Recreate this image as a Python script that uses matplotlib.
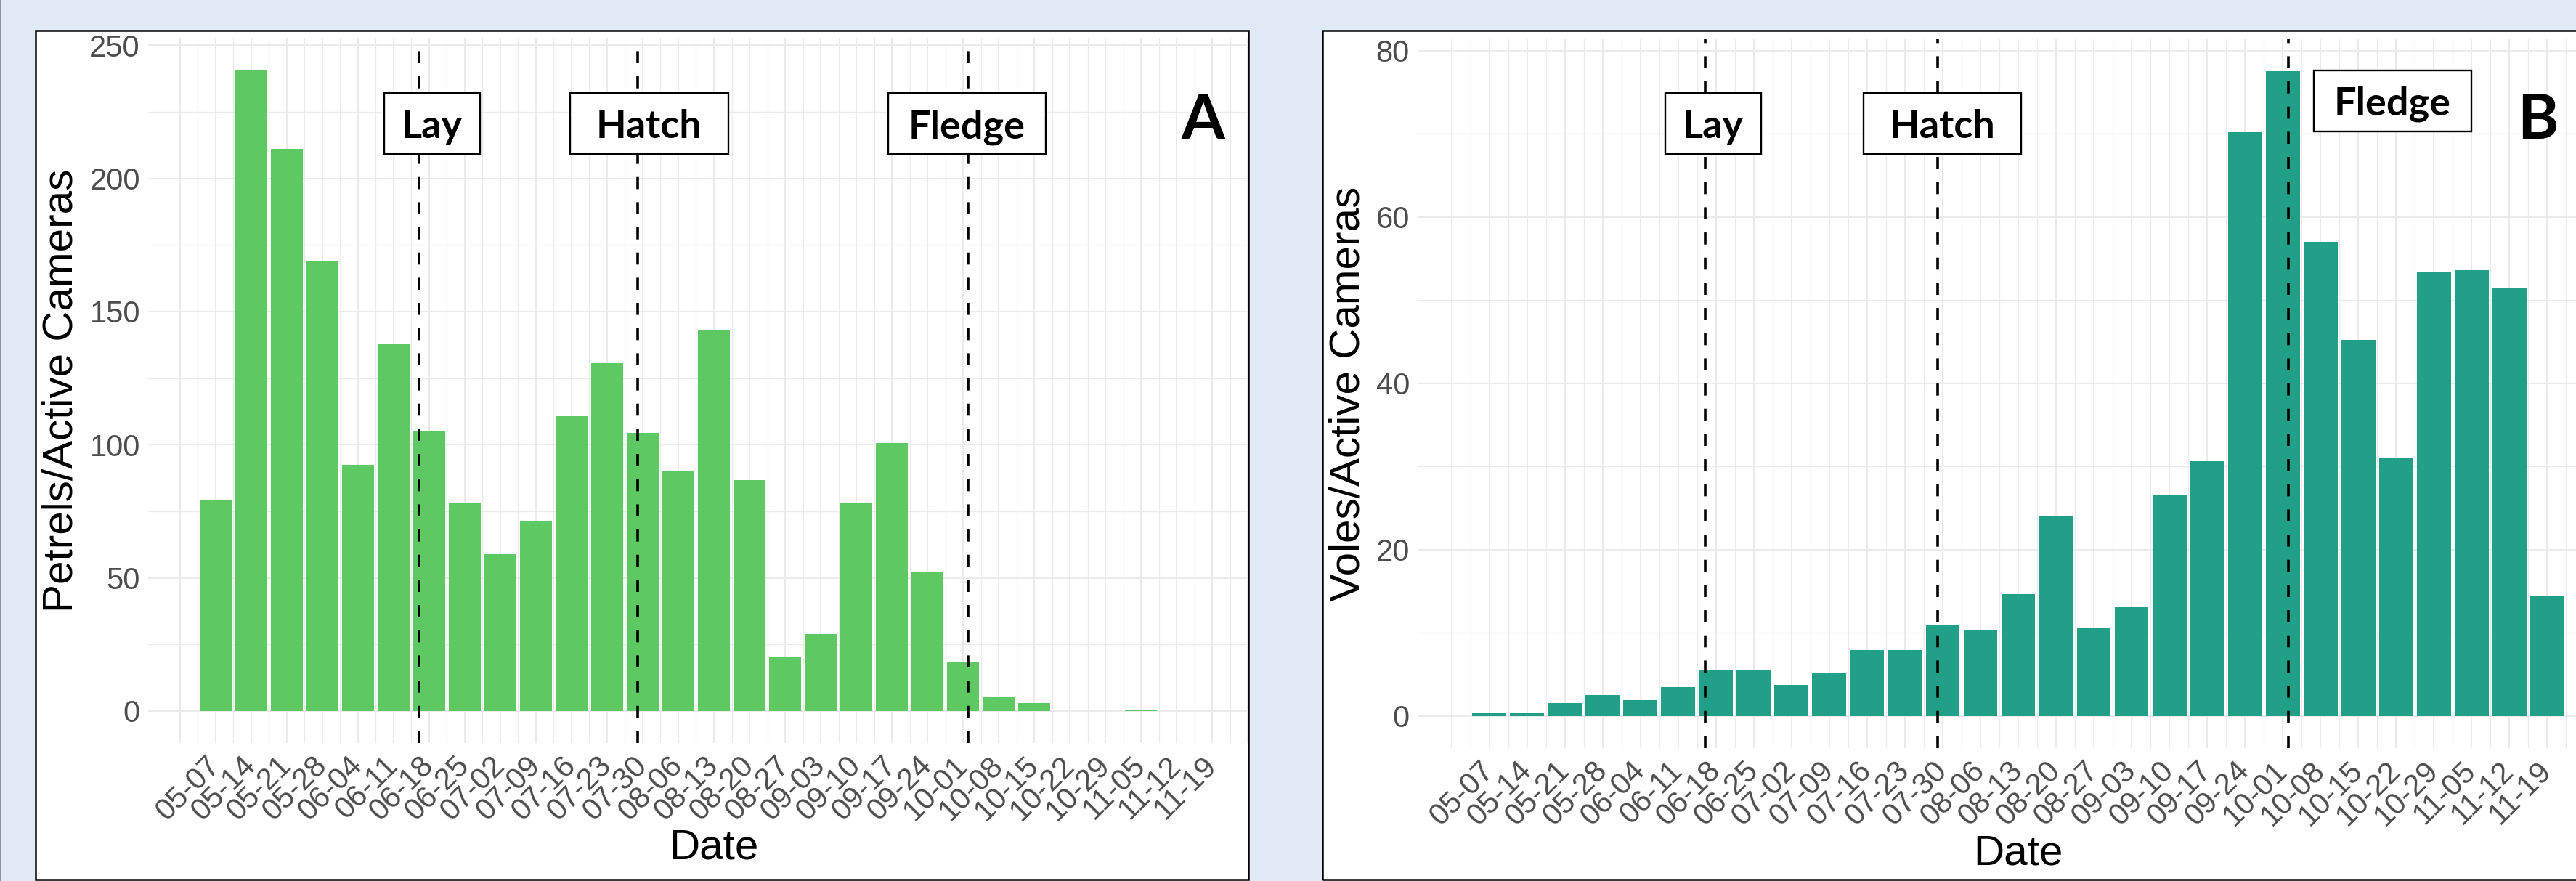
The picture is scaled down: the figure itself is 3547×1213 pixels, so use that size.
import numpy as np
import matplotlib.pyplot as plt
from matplotlib.patches import Rectangle

# weekly bins (month-day of week start)
weeks = ['05-07', '05-14', '05-21', '05-28', '06-04', '06-11', '06-18', '06-25',
         '07-02', '07-09', '07-16', '07-23', '07-30', '08-06', '08-13', '08-20',
         '08-27', '09-03', '09-10', '09-17', '09-24', '10-01', '10-08', '10-15',
         '10-22', '10-29', '11-05', '11-12', '11-19']

# Panel A: petrel detections per active camera
petrels = [79, 240.5, 211, 169, 92.3, 138, 105, 78, 59, 71.3, 110.7, 130.6, 104.4,
           90, 143, 86.6, 20.2, 29, 78, 100.5, 52, 18.3, 5.2, 3, 0, 0, 0.5, 0, 0]

# Panel B: vole detections per active camera
voles = [0.3, 0.3, 1.5, 2.5, 1.9, 3.5, 5.5, 5.5, 3.7, 5.1, 7.9, 7.95, 10.9, 10.3,
         14.6, 24.1, 10.6, 13.1, 26.6, 30.6, 70.2, 77.5, 57.0, 45.2, 31.0, 53.4,
         53.6, 51.5, 14.4]

# breeding events
events = ['Lay', 'Hatch', 'Fledge']
event_dates = ['06-16', '07-29', '10-02']

W, H, DPI = 3548, 1213, 100
BG = '#dfeaf6'

fig = plt.figure(figsize=(W / DPI, H / DPI), dpi=DPI, facecolor=BG)


def fx(x):
    return x / W


def fy(y):
    return 1 - y / H


def fig_rect(x0, y0, x1, y1, **kw):
    r = Rectangle((fx(x0), fy(y1)), fx(x1) - fx(x0), fy(y0) - fy(y1),
                  transform=fig.transFigure, **kw)
    fig.add_artist(r)
    return r


def week_pos(md):
    d0 = np.datetime64('2020-' + weeks[0])
    return (np.datetime64('2020-' + md) - d0).astype(int) / 7


def draw_panel(box, area, values, color, ylabel, ystep, ylab_x, labels, letter):
    # white card behind the panel
    fig_rect(*box, facecolor='white', edgecolor='none', zorder=-1)
    left, top, right, bottom = area
    ax = fig.add_axes([fx(left), fy(bottom), fx(right) - fx(left), fy(top) - fy(bottom)])
    ax.set_facecolor('none')

    n = len(weeks)
    x = np.arange(n)
    ax.bar(x, values, width=0.9, color=color, zorder=2)

    span = (n - 1) + 0.9
    ax.set_xlim(-0.45 - 0.05 * span, n - 1 + 0.45 + 0.05 * span)
    vmax = max(values)
    ax.set_ylim(-0.05 * vmax, 1.05 * vmax)

    # gridlines (ggplot minimal look)
    ax.set_xticks(np.arange(-1, n + 1))
    ax.set_xticklabels([''] + weeks + [''], rotation=45, ha='right', va='center',
                       rotation_mode='anchor')
    ax.set_xticks(np.arange(-0.5, n), minor=True)
    yt = np.arange(0, 1.05 * vmax, ystep)
    ax.set_yticks(yt)
    ax.set_yticklabels([f'{v:g}' for v in yt])
    ax.set_yticks(np.arange(ystep / 2, 1.05 * vmax, ystep), minor=True)
    ax.grid(which='major', color='#ebebeb', lw=1.5, zorder=0)
    ax.grid(which='minor', color='#ebebeb', lw=0.9, zorder=0)
    ax.set_axisbelow(True)
    for s in ax.spines.values():
        s.set_visible(False)
    ax.tick_params(which='both', length=0)
    ax.tick_params(axis='y', labelsize=30, labelcolor='#4d4d4d', pad=8)
    ax.tick_params(axis='x', labelsize=30, labelcolor='#4d4d4d', pad=18)

    ax.set_xlabel('Date', fontsize=42)
    ax.xaxis.label.set_va('center')
    ax.xaxis.set_label_coords(0.5, -0.149)
    ax.set_ylabel(ylabel, fontsize=42)
    ax.yaxis.label.set_va('center')
    ax.yaxis.set_label_coords(ylab_x, 0.5)

    for d in event_dates:
        ax.axvline(week_pos(d), color='black', lw=2.6, ls=(0, (4.6, 5.0)), zorder=3)

    # event label boxes (centre in week units, vertical centre in px, width px)
    for (name, xc, yc, wpx) in labels:
        px = ax.transData.transform((xc, 0))[0]
        fig_rect(px - wpx / 2, yc - 42, px + wpx / 2, yc + 42, facecolor='white',
                 edgecolor='black', lw=1.7, zorder=5)
        fig.text(fx(px), fy(yc + 20), name, fontsize=39, fontweight='bold',
                 family='Lato', ha='center', va='baseline', zorder=6)

    px = ax.transData.transform((27.75, 0))[0]
    fig.text(fx(px), fy(191), letter, fontsize=62, fontweight='bold',
             family='Lato', ha='center', va='baseline', zorder=6)
    return ax


plt.rcParams['font.family'] = ['Liberation Sans', 'DejaVu Sans']

draw_panel((49, 42, 1719, 1211), (204, 53, 1762, 1023), petrels, '#5ec962',
           'Petrels/Active Cameras', 50, -0.0764,
           [('Lay', 6.08, 170, 132), ('Hatch', 12.18, 170, 218), ('Fledge', 21.11, 170, 217)],
           'A')
draw_panel((1821, 42, 3600, 1211), (1952, 54, 3606, 1030), voles, '#21a087',
           'Voles/Active Cameras', 20, -0.058,
           [('Lay', 5.92, 170, 132), ('Hatch', 11.99, 170, 217), ('Fledge', 23.9, 139, 217)],
           'B')

# gap between the cards hides panel A overflow
fig_rect(1720.5, 0, 1819.5, H, facecolor=BG, edgecolor='none', zorder=8)
fig_rect(49, 42, 1719, 1211, facecolor='none', edgecolor='black', lw=1.8, zorder=9)
fig_rect(1821, 42, 3600, 1211, facecolor='none', edgecolor='black', lw=1.8, zorder=9)
fig_rect(0, 0, 2, H, facecolor='#8d949c', edgecolor='none', zorder=9)

fig.savefig('out.png', dpi=DPI, facecolor=BG)
